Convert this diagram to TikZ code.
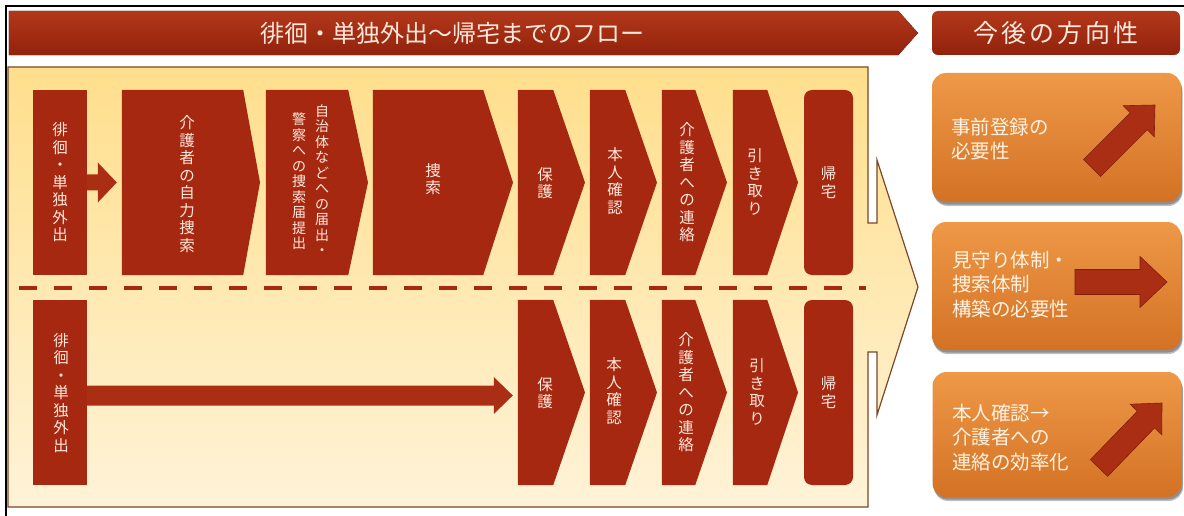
\documentclass[tikz,border=0pt]{standalone}
\usepackage{fontspec}
\setmainfont{Noto Sans CJK JP}
\usetikzlibrary{calc,shadows}
\definecolor{flowred}{RGB}{166,40,16}
\definecolor{bannertop}{RGB}{178,56,26}
\definecolor{bannerbot}{RGB}{146,34,12}
\definecolor{yeltop}{RGB}{255,223,140}
\definecolor{yelbot}{RGB}{255,243,216}
\definecolor{yeledge}{RGB}{125,70,40}
\definecolor{orgtop}{RGB}{238,152,72}
\definecolor{orgbot}{RGB}{212,114,36}
\definecolor{arrowred}{RGB}{170,46,20}
\definecolor{arrowedge}{RGB}{128,30,10}
\definecolor{lighttext}{RGB}{255,232,220}
\definecolor{creamtext}{RGB}{255,242,226}

\tikzset{
  body/.style={inner sep=0pt, minimum height=185pt},
  vtext/.style={text=lighttext, font=\fontsize{15.5}{17.5}\selectfont, align=center, inner sep=0pt},
  vtextsm/.style={text=lighttext, font=\fontsize{14}{15.5}\selectfont, align=center, inner sep=0pt},
  htext/.style={text=lighttext, font=\fontsize{24}{28}\selectfont, inner sep=0pt},
  hbox/.style={rounded corners=6pt, top color=bannertop, bottom color=bannerbot,
    minimum width=248pt, minimum height=44pt, inner sep=0pt, text=lighttext,
    font=\fontsize{25}{30}\selectfont},
  obox/.style={rounded corners=14pt, top color=orgtop, bottom color=orgbot,
    inner sep=0pt, minimum width=249pt,
    drop shadow={shadow xshift=1.5pt, shadow yshift=-4pt, opacity=0.25, fill=black},
    drop shadow={shadow xshift=1pt, shadow yshift=-2.5pt, opacity=0.25, fill=black}},
  otext/.style={text=creamtext, font=\fontsize{19.5}{24.5}\selectfont, align=left, inner sep=0pt, anchor=west},
  sepline/.style={flowred, line width=4pt, dash pattern=on 18pt off 17pt},
}

% chevron box: name, x left, x right (top edge end), x tip, y middle
\newcommand\chevron[5]{%
  \node[body, minimum width={#3pt-#2pt}] (#1) at ({(#2+#3)/2},#5) {};
  \fill[flowred] (#1.north west) -- (#1.north east) -- (#4,#5) -- (#1.south east) -- (#1.south west) -- cycle;
}

% block arrow: [options] tail, tip, shaft half width, head half width, head length
\newcommand\blockarrow[6][]{%
  \coordinate (ba-a) at #2;
  \coordinate (ba-b) at #3;
  \coordinate (ba-h) at ($(ba-b)!#6!(ba-a)$);
  \fill[arrowred,#1] ($(ba-a)!#4!90:(ba-b)$) -- ($(ba-h)!#4!90:(ba-b)$) -- ($(ba-h)!#5!90:(ba-b)$)
     -- (ba-b) -- ($(ba-h)!#5!-90:(ba-b)$) -- ($(ba-h)!#4!-90:(ba-b)$) -- ($(ba-a)!#4!-90:(ba-b)$) -- cycle;
}

\begin{document}
\begin{tikzpicture}[x=1pt,y=-1pt]
\useasboundingbox (0,0) rectangle (1184,516);

% outer frame
\draw[black, line width=1.6pt] (6,516) -- (6,6) -- (1184,6);

% header banner
\node[inner sep=0pt, minimum width=889pt, minimum height=44pt] (hb) at (453.5,33) {};
\fill[top color=bannertop, bottom color=bannerbot] (hb.north west) -- (hb.north east) -- (918,33) -- (hb.south east) -- (hb.south west) -- cycle;
\node[htext] (ht) at (452,33) {徘徊・単独外出～帰宅までのフロー};

\node[hbox] (fb) at (1056,33) {今\kern3pt 後\kern3pt の\kern3pt 方\kern3pt 向\kern3pt 性};

% big yellow arrow background
\path[draw=yeledge, line width=1.2pt, top color=yeltop, bottom color=yelbot]
  (8,67) -- (868,67) -- (868,223) -- (877,223) -- (877,160) -- (918,287) -- (877,415)
  -- (877,352) -- (868,352) -- (868,507) -- (8,507) -- cycle;

% dashed separator
\coordinate (ds) at (19,288);
\coordinate (de) at (866,288);
\draw[sepline] (ds) -- (de);

% ---- top row ----
\node[body, minimum width=54pt, fill=flowred] (u1) at (60,182.5) {};
\chevron{u2}{122}{243}{260}{182.5}
\chevron{u3}{266}{348}{368}{182.5}
\chevron{u4}{373}{483}{513}{182.5}
\chevron{u5}{518}{553}{585}{182.5}
\chevron{u6}{590}{625}{657}{182.5}
\chevron{u7}{662}{695}{727}{182.5}
\chevron{u8}{733}{767}{798}{182.5}
\node[body, minimum width=49pt, fill=flowred, rounded corners=8pt] (u9) at (828.5,182.5) {};

\blockarrow{(u1.east)}{($(u2.west)+(-5,0)$)}{8pt}{20pt}{19pt}

\node[vtext] (u1t) at (60,182.5) {徘\\徊\\・\\単\\独\\外\\出};
\node[vtext] (u2t) at (187,184) {介\\護\\者\\の\\自\\力\\捜\\索};
\node[vtextsm] (u3r) at (322,180) {自\\治\\体\\な\\ど\\へ\\の\\届\\出\\・};
\node[vtextsm] (u3l) at (299,181.5) {警\\察\\へ\\の\\捜\\索\\届\\提\\出};
\node[vtext] (u4t) at (433,179) {捜\\索};
\node[vtext] (u5t) at (545,183) {保\\護};
\node[vtext] (u6t) at (615,181) {本\\人\\確\\認};
\node[vtext] (u7t) at (687,182.5) {介\\護\\者\\へ\\の\\連\\絡};
\node[vtext] (u8t) at (755,182) {引\\き\\取\\り};
\node[vtext] (u9t) at (828.5,182.5) {帰\\宅};

% ---- bottom row ----
\node[body, minimum width=54pt, fill=flowred] (l1) at (60,392.5) {};
\chevron{l5}{518}{553}{585}{392.5}
\chevron{l6}{590}{625}{657}{392.5}
\chevron{l7}{662}{695}{727}{392.5}
\chevron{l8}{733}{767}{798}{392.5}
\node[body, minimum width=49pt, fill=flowred, rounded corners=8pt] (l9) at (828.5,392.5) {};

\blockarrow{($(l1.east)+(0,3)$)}{($(l5.west)+(-5,3)$)}{10pt}{18.5pt}{19pt}

\node[vtext] (l1t) at (61,393) {徘\\徊\\・\\単\\独\\外\\出};
\node[vtext] (l5t) at (545,393) {保\\護};
\node[vtext] (l6t) at (614,391) {本\\人\\確\\認};
\node[vtext] (l7t) at (686,392.5) {介\\護\\者\\へ\\の\\連\\絡};
\node[vtext] (l8t) at (757,392) {引\\き\\取\\り};
\node[vtext] (l9t) at (828.5,392.5) {帰\\宅};

% ---- right panel ----
\node[obox, minimum height=129pt] (r1) at (1056.5,137.5) {};
\node[obox, minimum height=128pt] (r2) at (1056.5,286) {};
\node[obox, minimum height=125pt] (r3) at (1057,434.5) {};

\node[otext] (r1t) at (951,139) {事前登録の\\必要性};
\node[otext] (r2t) at (952,284.5) {見守り体制・\\捜索体制\\構築の必要性};
\node[otext] (r3t) at (952,437.5) {本人確認→\\介護者への\\連絡の効率化};

\coordinate (a1s) at (1092,168);
\coordinate (a1e) at (1155,105);
\blockarrow[draw=arrowedge, line width=0.6pt]{(a1s)}{(a1e)}{12pt}{22pt}{23pt}
\coordinate (a2s) at (1075,282);
\coordinate (a2e) at (1167,282);
\blockarrow[draw=arrowedge, line width=0.6pt]{(a2s)}{(a2e)}{12.5pt}{25.5pt}{27pt}
\coordinate (a3s) at (1099,468);
\coordinate (a3e) at (1162,403);
\blockarrow[draw=arrowedge, line width=0.6pt]{(a3s)}{(a3e)}{12pt}{22pt}{23pt}
\end{tikzpicture}
\end{document}
